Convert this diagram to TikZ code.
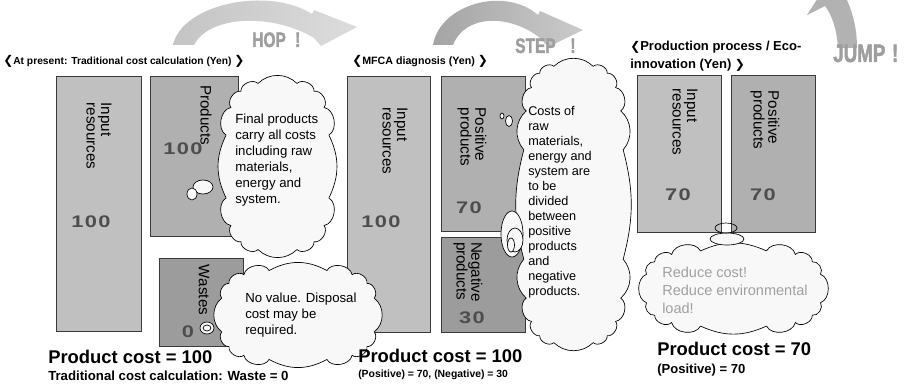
\documentclass[tikz,border=0pt]{standalone}
\usepackage{fontspec}
\setmainfont{Liberation Sans}
\newfontfamily\dejavu{DejaVu Sans}
\newfontfamily\numfont{Liberation Sans}[FakeStretch=1.3,LetterSpace=8]
\newfontfamily\hopfont{Liberation Sans Bold}[FakeStretch=0.74,FakeBold=1.6]

\definecolor{edge}{HTML}{3A3A3A}
\definecolor{inputgray}{HTML}{C0C0C0}
\definecolor{prodgray}{HTML}{B0B0B0}
\definecolor{wastegray}{HTML}{9C9C9C}
\definecolor{numgray}{HTML}{4D4D4D}
\definecolor{cloudfill}{HTML}{F8F8F8}
\definecolor{softtext}{HTML}{A0A0A0}
\definecolor{hopL}{HTML}{C4C4C4}
\definecolor{hopR}{HTML}{DCDCDC}
\definecolor{stepL}{HTML}{A4A4A4}
\definecolor{stepR}{HTML}{CBCBCB}
\definecolor{jumpC}{HTML}{B2B2B2}
\definecolor{wordgray}{HTML}{9E9E9E}

% heavy angle brackets around the section headings
\newcommand\chevL{{\dejavu\fontsize{9}{9}\selectfont ❮}}
\newcommand\chevR{{\dejavu\fontsize{9}{9}\selectfont ❯}}

% scalloped cloud on a rounded (super-elliptic) outline:
% centre x, centre y, x radius, y radius, puffs (multiple of 4), exponent
\newcommand\puffcloud[6]{%
  \filldraw[cloudline] ({#1+#3*sxf(180/#5,#6)},{#2+#4*syf(180/#5,#6)})
    \foreach \k [evaluate=\k as \ta using {180/#5+(\k-1)*360/#5},
                 evaluate=\k as \tb using {180/#5+\k*360/#5},
                 evaluate=\k as \dd using {veclen(#3*(sxf(\tb,#6)-sxf(\ta,#6)),#4*(syf(\tb,#6)-syf(\ta,#6)))},
                 evaluate=\k as \bd using {min(70,asin(min(1,8/(0.29*\dd))))}] in {1,...,#5}
    { to[bend left=\bd] ({#1+#3*sxf(\tb,#6)},{#2+#4*syf(\tb,#6)}) } -- cycle;}

\begin{document}
\begin{tikzpicture}[x=0.75pt,y=-0.75pt,
  declare function={sxf(\t,\e)=cos(\t)*pow(abs(cos(\t)),\e-1);
                    syf(\t,\e)=sin(\t)*pow(abs(sin(\t)),\e-1);},
  dims/.style 2 args={minimum width=#1*0.75pt, minimum height=#2*0.75pt},
  panel/.style={draw=edge, line width=0.6pt, inner sep=0pt, outer sep=0pt},
  inbox/.style={panel, fill=inputgray},
  prodbox/.style={panel, fill=prodgray},
  wastebox/.style={panel, fill=wastegray},
  lbl/.style={rotate=-90, align=left, inner sep=0pt, font=\fontsize{11.4}{11}\selectfont},
  num/.style={inner sep=0pt, text=numgray, font=\numfont\bfseries\fontsize{12.6}{14}\selectfont},
  cloudline/.style={draw=black, line width=0.5pt, fill=cloudfill, line join=round},
  bubble/.style={draw=black, line width=0.5pt, fill=cloudfill},
  say/.style={align=left, inner sep=0pt, anchor=north west},
  head/.style={inner sep=0pt, anchor=base west},
  word/.style={inner sep=0pt, anchor=base west, text=wordgray}
]
\useasboundingbox (0,0) rectangle (904,385);
\fill[white] (0,0) rectangle (904,385);

% curved "hop / step / jump" arrows
\begin{scope}
\clip (0,0) rectangle (904,385);
\shade[left color=hopL, right color=hopR]
  (173,45) .. controls (182,4) and (268,-14) .. (312,14)
  -- (314,10) -- (357,27) -- (321,46) -- (314,38)
  .. controls (275,14) and (210,14) .. (194,45) -- cycle;
\shade[left color=stepL, right color=stepR]
  (433,45) .. controls (440,4) and (505,-14) .. (538,15)
  -- (540,11) -- (583,30) -- (548,47) -- (540,38)
  .. controls (510,14) and (465,14) .. (453,45) -- cycle;
\fill[jumpC]
  (838,48) .. controls (837,30) and (832,15) .. (825,6)
  -- (807,15) -- (836,-30) -- (860,-12) -- (845,-4)
  .. controls (851,8) and (857,25) .. (857,48) -- cycle;
\end{scope}

\node[word, font=\hopfont\fontsize{15.7}{16}\selectfont] (hop) at (252,47) {HOP\hspace{7pt}!};
\node[word, font=\hopfont\fontsize{15.7}{16}\selectfont] (stepword) at (515,53) {STEP\hspace{11pt}!};
\node[word, font=\hopfont\fontsize{19}{20}\selectfont] (jumpword) at (833,62) {JUMP\hspace{5pt}!};

% section headings
\node[head, font=\bfseries\fontsize{7.7}{9}\selectfont] (h1) at (3,65)
  {\chevL At present: Traditional cost calculation (Yen) \chevR};
\node[head, font=\bfseries\fontsize{8}{9}\selectfont] (h2) at (352,65)
  {\chevL MFCA diagnosis (Yen) \chevR};
\node[say, font=\bfseries\fontsize{9.75}{13.5}\selectfont] (h3) at (630,40.5)
  {\chevL Production process / Eco-\\innovation (Yen) \chevR};

% cost blocks
\node[inbox, dims={85}{255}] (p1in) at (98.5,203.5) {};
\node[prodbox, dims={88}{160}] (p1prod) at (194,156) {};
\node[wastebox, dims={84}{88}] (p1waste) at (201,302) {};

\node[inbox, dims={83}{256}] (p2in) at (388.5,204) {};
\node[prodbox, dims={84}{155}] (p2pos) at (483,153.5) {};
\node[wastebox, dims={84}{95}] (p2neg) at (483,284.5) {};

\node[inbox, dims={84}{157}] (p3in) at (679,153.5) {};
\node[prodbox, dims={84}{157}] (p3pos) at (773,153.5) {};

% block labels
\node[lbl] (l1in) at (99,136) {Input\\resources};
\node[lbl] (l1prod) at (206,115) {Products};
\node[lbl] (l1waste) at (204,290) {Wastes};
\node[lbl] (l2in) at (395,141) {Input\\resources};
\node[lbl] (l2pos) at (472,137) {Positive\\products};
\node[lbl] (l2neg) at (468,272) {Negative\\products};
\node[lbl] (l3in) at (685,122) {Input\\resources};
\node[lbl] (l3pos) at (765,120) {Positive\\products};

% amounts
\node[num] (n1in) at (91,222) {100};
\node[num] (n1prod) at (183,149) {100};
\node[num] (n1waste) at (188,332) {0};
\node[num] (n2in) at (381,222) {100};
\node[num] (n2pos) at (469,208) {70};
\node[num] (n2neg) at (472,318) {30};
\node[num] (n3in) at (678,195) {70};
\node[num] (n3pos) at (763,195) {70};

% thought clouds and their trails of bubbles
\puffcloud{277.5}{166.5}{52}{84}{16}{0.6}
\draw[bubble] (203,187) ellipse [x radius=10, y radius=7];
\draw[bubble] (192,194) ellipse [x radius=5, y radius=6];

\puffcloud{298}{315}{77}{45}{16}{0.6}
\draw[bubble] (207,328) ellipse [x radius=7, y radius=6];
\draw[bubble] (207,328) ellipse [x radius=4, y radius=3];

\puffcloud{573.5}{204.5}{50}{139}{20}{0.5}
\draw[bubble] (509,121) ellipse [x radius=3.5, y radius=5.5];
\draw[bubble] (502,116) ellipse [x radius=2, y radius=3];
\draw[bubble] (512,234) ellipse [x radius=11, y radius=23];
\draw[bubble] (515,240) ellipse [x radius=8, y radius=12];
\draw[bubble] (511,245) ellipse [x radius=3.5, y radius=7];

\puffcloud{733.5}{288.5}{88}{38}{16}{0.6}
\draw[bubble] (727,239) ellipse [x radius=17, y radius=6];
\draw[draw=black, line width=0.5pt] (726,228) ellipse [x radius=11, y radius=5];

% cloud texts
\node[say, font=\fontsize{9.9}{12}\selectfont] (t1) at (235,114)
  {Final products\\carry all costs\\including raw\\materials,\\energy and\\system.};
\node[say, font=\fontsize{9.9}{12}\selectfont] (t2) at (245,293)
  {No value. Disposal\\cost may be\\required.};
\node[say, font=\fontsize{9.5}{11.25}\selectfont] (t3) at (528,106)
  {Costs of\\raw\\materials,\\energy and\\system are\\to be\\divided\\between\\positive\\products\\and\\negative\\products.};
\node[say, text=softtext, font=\fontsize{10.9}{13.5}\selectfont] (t4) at (662,267)
  {Reduce cost!\\Reduce environmental\\load!};

% totals
\node[head, font=\bfseries\fontsize{13.8}{15}\selectfont] (s1) at (48,363) {Product cost = 100};
\node[head, font=\bfseries\fontsize{9.9}{11}\selectfont] (d1) at (48,380) {Traditional cost calculation: Waste = 0};
\node[head, font=\bfseries\fontsize{13.8}{15}\selectfont] (s2) at (358,362) {Product cost = 100};
\node[head, font=\bfseries\fontsize{7.8}{9}\selectfont] (d2) at (358,377) {(Positive) = 70, (Negative) = 30};
\node[head, font=\bfseries\fontsize{13.8}{15}\selectfont] (s3) at (657,355) {Product cost = 70};
\node[head, font=\bfseries\fontsize{9.8}{11}\selectfont] (d3) at (657,373) {(Positive) = 70};
\end{tikzpicture}
\end{document}
